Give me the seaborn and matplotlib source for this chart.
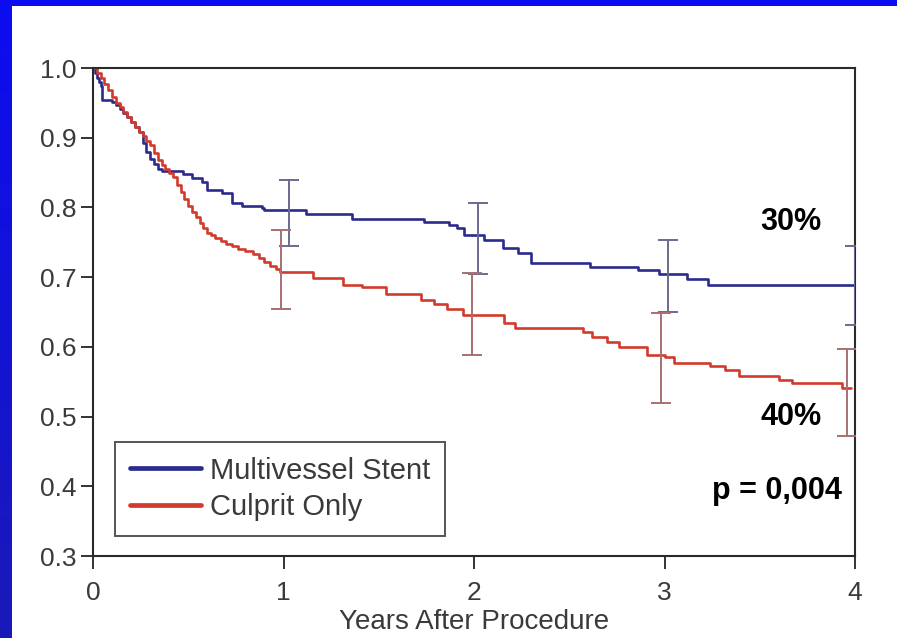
import numpy as np
import pandas as pd
import matplotlib
matplotlib.use("Agg")
import matplotlib.pyplot as plt
from matplotlib.patches import Rectangle
from matplotlib.colors import LinearSegmentedColormap
from matplotlib.lines import Line2D
import seaborn as sns

# Kaplan-Meier survival estimates (years after procedure, survival)
multi_t = [0.00, 0.01, 0.02, 0.03, 0.04, 0.047, 0.10, 0.12, 0.14, 0.16, 0.18,
           0.20, 0.22, 0.24, 0.26, 0.28, 0.30, 0.32, 0.34, 0.36, 0.47, 0.52,
           0.57, 0.60, 0.675, 0.73, 0.78, 0.885, 0.90, 1.12, 1.36, 1.74, 1.87,
           1.91, 1.95, 2.05, 2.15, 2.23, 2.30, 2.61, 2.86, 2.97, 3.12, 3.23, 4.00]
multi_s = [1.000, 0.993, 0.986, 0.980, 0.974, 0.954, 0.951, 0.947, 0.941, 0.935, 0.929,
           0.923, 0.916, 0.908, 0.893, 0.880, 0.870, 0.862, 0.855, 0.852, 0.848, 0.842,
           0.837, 0.825, 0.820, 0.806, 0.802, 0.799, 0.796, 0.791, 0.783, 0.779, 0.775,
           0.770, 0.760, 0.753, 0.742, 0.735, 0.720, 0.714, 0.710, 0.704, 0.697, 0.689, 0.689]

culprit_t = [0.00, 0.02, 0.04, 0.06, 0.08, 0.10, 0.12, 0.14, 0.16, 0.18, 0.20,
             0.22, 0.24, 0.26, 0.28, 0.30, 0.32, 0.34, 0.36, 0.38, 0.40, 0.42,
             0.44, 0.46, 0.48, 0.50, 0.52, 0.54, 0.56, 0.58, 0.60, 0.62, 0.64,
             0.67, 0.70, 0.73, 0.76, 0.80, 0.84, 0.87, 0.90, 0.93, 0.96, 0.98,
             1.155, 1.31, 1.41, 1.54, 1.72, 1.79, 1.86, 1.94, 2.16, 2.215, 2.57,
             2.62, 2.70, 2.76, 2.91, 3.00, 3.05, 3.24, 3.32, 3.39, 3.60, 3.67,
             3.93, 3.98]
culprit_s = [1.000, 0.993, 0.985, 0.977, 0.968, 0.958, 0.950, 0.944, 0.937, 0.930, 0.923,
             0.915, 0.908, 0.902, 0.896, 0.890, 0.878, 0.868, 0.861, 0.855, 0.849, 0.843,
             0.832, 0.822, 0.812, 0.802, 0.793, 0.786, 0.778, 0.771, 0.764, 0.760, 0.756,
             0.752, 0.748, 0.745, 0.741, 0.737, 0.733, 0.728, 0.722, 0.716, 0.711, 0.707,
             0.699, 0.689, 0.686, 0.676, 0.667, 0.661, 0.655, 0.646, 0.634, 0.627, 0.621,
             0.614, 0.607, 0.600, 0.588, 0.585, 0.577, 0.573, 0.567, 0.558, 0.552, 0.548,
             0.541, 0.541]

# Confidence intervals at yearly landmarks
multi_ci_t = [1.03, 2.02, 3.02, 4.00]
multi_ci_lo = [0.745, 0.705, 0.650, 0.632]
multi_ci_hi = [0.840, 0.806, 0.753, 0.744]
culprit_ci_t = [0.985, 1.99, 2.98, 3.96]
culprit_ci_lo = [0.655, 0.589, 0.520, 0.472]
culprit_ci_hi = [0.768, 0.706, 0.648, 0.597]

groups = ["Multivessel Stent", "Culprit Only"]
x_ticks = [0, 1, 2, 3, 4]
y_ticks = [0.3, 0.4, 0.5, 0.6, 0.7, 0.8, 0.9, 1.0]
notes = [("30%", 3.664, 0.779), ("40%", 3.664, 0.500), ("p = 0,004", 3.59, 0.393)]

line_colors = {"Multivessel Stent": "#2b2b8c", "Culprit Only": "#d23a2c"}
bar_colors = {"Multivessel Stent": "#6a6a90", "Culprit Only": "#a87070"}

df = pd.concat([
    pd.DataFrame({"t": multi_t, "s": multi_s, "group": groups[0]}),
    pd.DataFrame({"t": culprit_t, "s": culprit_s, "group": groups[1]}),
])

sns.set_theme(style="white")
plt.rcParams["font.family"] = ["Liberation Sans", "DejaVu Sans"]

fig = plt.figure(figsize=(8.97, 6.38), dpi=100)

# slide background: blue border with a white panel
bg = fig.add_axes([0, 0, 1, 1], zorder=-5)
grad = np.linspace(0, 1, 256).reshape(-1, 1)
cmap = LinearSegmentedColormap.from_list("slide", ["#0c0cf2", "#1a1ab8"])
bg.imshow(grad, aspect="auto", cmap=cmap, extent=[0, 1, 0, 1])
bg.add_patch(Rectangle((12 / 897, 0), 1, 1 - 6 / 638, facecolor="white",
                       edgecolor="none", transform=bg.transAxes))
bg.set_axis_off()

ax = fig.add_axes([93 / 897, 1 - 556 / 638, 762 / 897, 488 / 638])
ax.set_facecolor("none")

sns.lineplot(data=df, x="t", y="s", hue="group", palette=line_colors,
             drawstyle="steps-post", linewidth=1.9, legend=False, ax=ax,
             estimator=None, sort=True)

ax.errorbar(multi_ci_t, [(a + b) / 2 for a, b in zip(multi_ci_lo, multi_ci_hi)],
            yerr=[[(b - a) / 2 for a, b in zip(multi_ci_lo, multi_ci_hi)]] * 2,
            fmt="none", ecolor=bar_colors[groups[0]], elinewidth=1.4,
            capsize=7.5, capthick=1.4, zorder=3)
ax.errorbar(culprit_ci_t, [(a + b) / 2 for a, b in zip(culprit_ci_lo, culprit_ci_hi)],
            yerr=[[(b - a) / 2 for a, b in zip(culprit_ci_lo, culprit_ci_hi)]] * 2,
            fmt="none", ecolor=bar_colors[groups[1]], elinewidth=1.4,
            capsize=7.5, capthick=1.4, zorder=3)

ax.set_xlim(0, 4)
ax.set_ylim(0.3, 1.0)
ax.set_xticks(x_ticks)
ax.set_xticklabels([str(v) for v in x_ticks])
ax.set_yticks(y_ticks)
ax.set_yticklabels([f"{v:.1f}" for v in y_ticks])
ax.tick_params(axis="both", colors="#333333", labelcolor="#3a3a3a",
               labelsize=19, direction="out", width=1.4)
ax.tick_params(axis="y", length=9, pad=3, left=True)
ax.tick_params(axis="x", length=9, pad=9, bottom=True)
for sp in ax.spines.values():
    sp.set_visible(True)
    sp.set_color("#2a2a2a")
    sp.set_linewidth(1.5)

ax.set_xlabel("Years After Procedure", fontsize=20, color="#3a3a3a", labelpad=3)
ax.set_ylabel("")

handles = [Line2D([], [], color=line_colors[g], linewidth=3.4) for g in groups]
leg = ax.legend(handles, groups, loc="lower left", bbox_to_anchor=(0.029, 0.041),
                fontsize=21, frameon=True, fancybox=False, handlelength=2.45,
                handletextpad=0.3, borderpad=0.5, labelspacing=0.3,
                labelcolor="#3a3a3a", borderaxespad=0)
leg.get_frame().set_edgecolor("#2a2a2a")
leg.get_frame().set_linewidth(1.4)

for txt, x, y in notes:
    ax.text(x, y, txt, fontsize=22, fontweight="bold", ha="center", va="center",
            color="black")

fig.savefig("out.png", dpi=100)
